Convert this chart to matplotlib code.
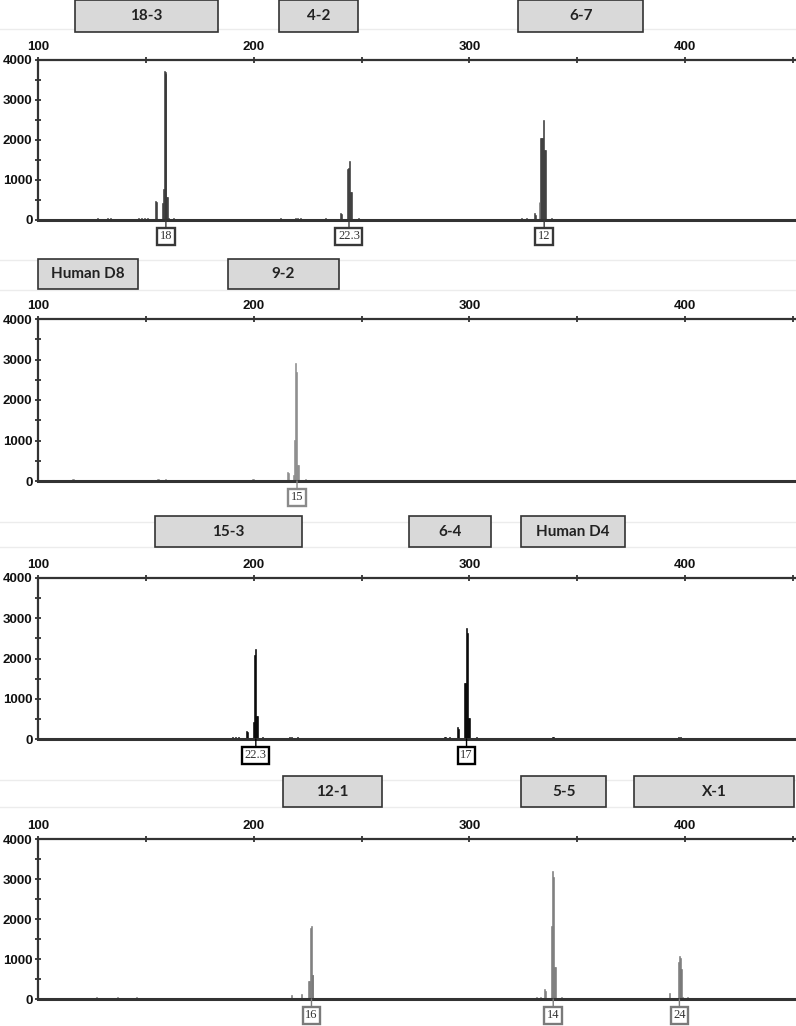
import matplotlib
matplotlib.use("Agg")
import matplotlib.pyplot as plt
from matplotlib.patches import Rectangle
from matplotlib.lines import Line2D
from matplotlib.ticker import MultipleLocator, FixedLocator
from matplotlib.transforms import blended_transform_factory

# ---------------- data ----------------
x_major = [100, 200, 300, 400]
x_minor = [150, 250, 350, 450]
y_major = [0, 1000, 2000, 3000, 4000]

# Panel 1 (18-3, 4-2, 6-7)
p1_bp = [127.8, 129.0, 132.4, 133.5, 137.5, 144.6, 146.8, 148.0, 149.5, 150.9,
         154.5, 155.0, 157.7, 158.1, 158.5, 158.9, 159.3, 159.8, 160.2, 160.7, 163.0,
         200.9, 212.5, 219.4, 220.2, 221.8, 233.3, 240.3, 240.7,
         243.4, 243.9, 244.3, 244.8, 245.2, 248.7,
         298.6, 324.4, 326.4, 330.2, 330.6,
         332.3, 332.8, 333.3, 333.8, 334.3, 334.8, 335.3, 338.3]
p1_h = [40, 30, 45, 40, 35, 30, 45, 45, 45, 40,
        480, 450, 430, 770, 3720, 3700, 3660, 580, 580, 60, 60,
        25, 40, 60, 50, 40, 50, 175, 150,
        1280, 1300, 1480, 710, 700, 60,
        20, 50, 50, 170, 120,
        460, 2050, 2050, 2050, 2500, 1750, 1750, 50]
p1_alleles = ["18", "22.3", "12"]
p1_allele_bp = [159.3, 244.2, 334.7]
p1_loci = ["18-3", "4-2", "6-7"]
p1_locus_start = [117.1, 211.6, 322.7]
p1_locus_end = [183.3, 248.6, 380.6]

# Panel 2 (Human D8, 9-2)
p2_bp = [116.0, 116.5, 155.5, 156.0, 159.3, 199.5, 200.0, 211.0,
         215.8, 216.2, 218.4, 218.9, 219.4, 219.9, 220.4, 220.8, 223.9,
         245.6, 313.9, 333.9]
p2_h = [40, 40, 40, 40, 40, 40, 40, 30,
        220, 200, 150, 1010, 2920, 2680, 395, 395, 40,
        20, 30, 30]
p2_alleles = ["15"]
p2_allele_bp = [220.1]
p2_loci = ["Human D8", "9-2"]
p2_locus_start = [100.0, 188.0]
p2_locus_end = [146.3, 239.4]

# Panel 3 (15-3, 6-4, Human D4)
p3_bp = [139.4, 152.6, 160.0, 187.4, 190.0, 191.5, 193.0, 196.9, 197.3,
         199.9, 200.4, 200.9, 201.4, 201.8,
         204.0, 216.7, 217.5, 220.4, 226.0, 256.8,
         279.0, 288.4, 289.0, 290.7, 294.6, 295.0,
         297.7, 298.1, 298.6, 299.0, 299.5, 299.9, 303.5,
         331.0, 338.5, 339.0, 350.0, 397.2, 397.7]
p3_h = [30, 20, 20, 30, 40, 40, 40, 200, 180,
        430, 2090, 2230, 570, 570,
        40, 40, 40, 40, 30, 20,
        20, 60, 50, 50, 290, 250,
        1400, 1400, 2750, 2625, 530, 530, 40,
        30, 50, 50, 20, 60, 50]
p3_alleles = ["22.3", "17"]
p3_allele_bp = [201.0, 298.7]
p3_loci = ["15-3", "6-4", "Human D4"]
p3_locus_start = [154.2, 271.8, 324.0]
p3_locus_end = [222.2, 310.2, 372.2]

# Panel 4 (12-1, 5-5, X-1)
p4_bp = [103.0, 112.3, 119.3, 127.0, 137.0, 145.6, 156.4, 159.5, 190.4, 193.5,
         196.6, 198.9, 208.2, 217.6, 222.4, 243.8,
         225.3, 225.8, 226.2, 226.6, 227.1, 227.5,
         298.4, 331.2, 332.8, 335.0, 335.4,
         338.2, 338.7, 339.2, 339.7, 340.1, 342.8,
         392.7, 396.8, 397.3, 397.7, 398.1, 398.5, 399.0, 401.0, 419.4, 448.7]
p4_h = [30, 30, 35, 40, 40, 40, 30, 30, 30, 30,
        30, 30, 30, 90, 120, 30,
        450, 450, 1780, 1825, 590, 590,
        30, 40, 40, 250, 200,
        1830, 3200, 3060, 810, 810, 40,
        140, 930, 1075, 1020, 750, 750, 60, 40, 30, 30]
p4_alleles = ["16", "14", "24"]
p4_allele_bp = [226.8, 338.9, 397.4]
p4_loci = ["12-1", "5-5", "X-1"]
p4_locus_start = [213.4, 324.0, 376.4]
p4_locus_end = [259.3, 363.4, 450.5]

# ---------------- layout ----------------
W, H = 796, 1026
fig = plt.figure(figsize=(W / 100, H / 100), dpi=100)
fig.patch.set_facecolor("white")

panels = [
    dict(bp=p1_bp, h=p1_h, al=p1_alleles, albp=p1_allele_bp, loci=p1_loci,
         ls=p1_locus_start, le=p1_locus_end, color="#383838",
         top=60, bot=220, box=(0, 32), sep=[29]),
    dict(bp=p2_bp, h=p2_h, al=p2_alleles, albp=p2_allele_bp, loci=p2_loci,
         ls=p2_locus_start, le=p2_locus_end, color="#8a8a8a",
         top=319, bot=481, box=(259, 289), sep=[260, 290]),
    dict(bp=p3_bp, h=p3_h, al=p3_alleles, albp=p3_allele_bp, loci=p3_loci,
         ls=p3_locus_start, le=p3_locus_end, color="#000000",
         top=578, bot=739, box=(516, 547), sep=[522, 547]),
    dict(bp=p4_bp, h=p4_h, al=p4_alleles, albp=p4_allele_bp, loci=p4_loci,
         ls=p4_locus_start, le=p4_locus_end, color="#7a7a7a",
         top=839, bot=999, box=(776, 807), sep=[780, 807]),
]

left_px, right_px = 38, 795
axis_col = "#333333"

for p in panels:
    for s in p["sep"]:
        fig.add_artist(Line2D([0, 1], [1 - s / H, 1 - s / H], color="#ececec",
                              lw=1, transform=fig.transFigure, zorder=0))

    ax = fig.add_axes([left_px / W, 1 - p["bot"] / H,
                       (right_px - left_px) / W, (p["bot"] - p["top"]) / H])
    ax.set_xlim(100, 451)
    ax.set_ylim(0, 4000)
    ax.bar(p["bp"], p["h"], width=0.46, color=p["color"], edgecolor=p["color"],
           linewidth=0.4, zorder=2)

    ax.spines["right"].set_visible(False)
    ax.spines["top"].set_linewidth(1.6)
    ax.spines["left"].set_linewidth(1.6)
    ax.spines["bottom"].set_linewidth(2.2)
    for side in ["top", "left", "bottom"]:
        ax.spines[side].set_color(axis_col)
    ax.spines["bottom"].set_zorder(3)

    ax.xaxis.tick_top()
    ax.xaxis.set_major_locator(FixedLocator(x_major))
    ax.xaxis.set_minor_locator(FixedLocator(x_minor))
    ax.yaxis.set_major_locator(FixedLocator(y_major))
    ax.yaxis.set_minor_locator(MultipleLocator(500))
    ax.tick_params(axis="x", which="both", direction="inout", length=5,
                   width=1.3, color=axis_col, pad=2.5, top=True, bottom=False)
    ax.tick_params(axis="y", which="both", direction="inout", length=4,
                   width=1.3, color=axis_col, pad=2)
    ax.set_xticklabels([str(v) for v in x_major], fontfamily="Liberation Sans",
                       fontweight="bold", fontsize=9.5, color="#111111")
    ax.set_yticklabels([str(v) for v in y_major], fontfamily="Liberation Sans",
                       fontweight="bold", fontsize=9.5, color="#111111")

    for lab, xb in zip(p["al"], p["albp"]):
        ax.annotate(lab, xy=(xb, 0), xytext=(0, -11.8), textcoords="offset points",
                    ha="center", va="center", fontsize=9,
                    fontfamily="Liberation Serif", color="#333333",
                    bbox=dict(boxstyle="square,pad=0.2", fc="white",
                              ec=p["color"], lw=1.7),
                    arrowprops=dict(arrowstyle="-", color=p["color"], lw=1,
                                    shrinkA=0, shrinkB=0),
                    annotation_clip=False, zorder=5)

    tr = blended_transform_factory(ax.transData, fig.transFigure)
    y0, y1 = p["box"]
    for name, xs, xe in zip(p["loci"], p["ls"], p["le"]):
        rect = Rectangle((xs, 1 - y1 / H), xe - xs, (y1 - y0) / H,
                         transform=tr, fc="#d9d9d9", ec="#333333", lw=1.2,
                         clip_on=False, zorder=4)
        fig.add_artist(rect)
        t = fig.text((xs + xe) / 2, 1 - (y0 + y1) / 2 / H, name, transform=tr,
                     fontsize=11, fontweight="bold", fontfamily="Lato",
                     color="#222222", ha="center", va="center", zorder=5)

fig.savefig("out.png", dpi=100, facecolor="white")
